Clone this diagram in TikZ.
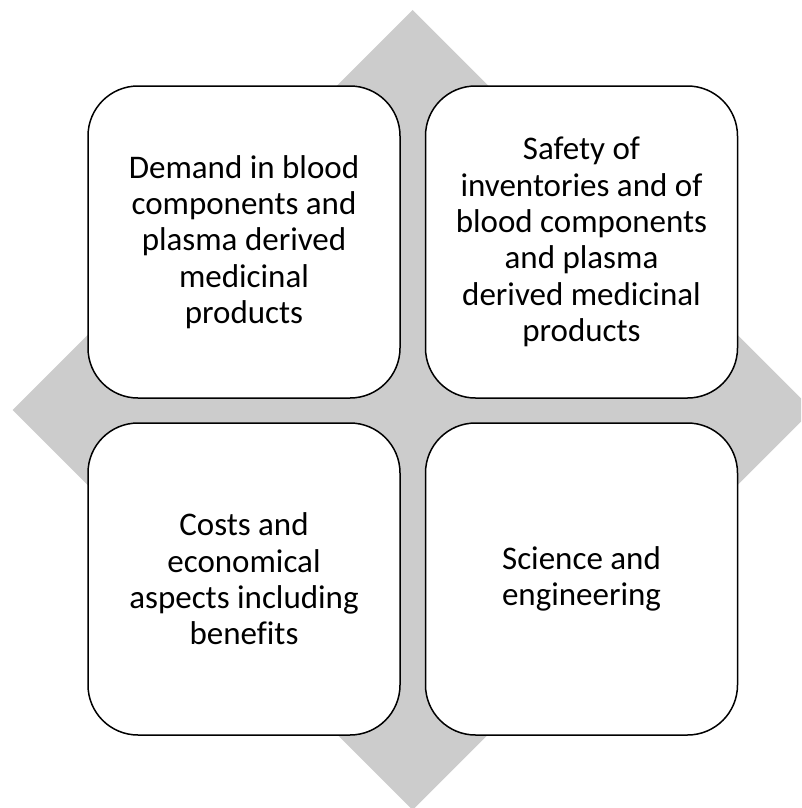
\documentclass[tikz,border=0pt]{standalone}
\usepackage{fontspec}
\setmainfont[Ligatures=NoCommon]{Carlito}
\definecolor{diam}{HTML}{CCCCCC}
\tikzset{
  quad/.style={draw=black, line width=1.5pt, fill=white, rectangle, rounded corners=50pt,
    minimum width=312pt, minimum height=312pt, inner sep=0pt, outer sep=0pt,
    align=center, font=\fontsize{33pt}{36.3pt}\selectfont},
}
\begin{document}
\begin{tikzpicture}[x=1pt,y=-1pt]
\useasboundingbox (0,0) rectangle (801,808);
\begin{scope}
\clip (0,0) rectangle (801,808);
\fill[diam] (412.7,10) -- (812.7,410) -- (412.7,810) -- (12.7,410) -- cycle;
\end{scope}
\node[quad] (tl) at (244,242) {Demand in blood\\components and\\plasma derived\\medicinal\\products};
\node[quad] (tr) at (581.5,242) {Safety of\\inventories and of\\blood components\\and plasma\\derived medicinal\\products};
\node[quad] (bl) at (244,579) {Costs and\\economical\\aspects including\\benefits};
\node[quad] (br) at (581.5,579) {Science and\\engineering};
\end{tikzpicture}
\end{document}
